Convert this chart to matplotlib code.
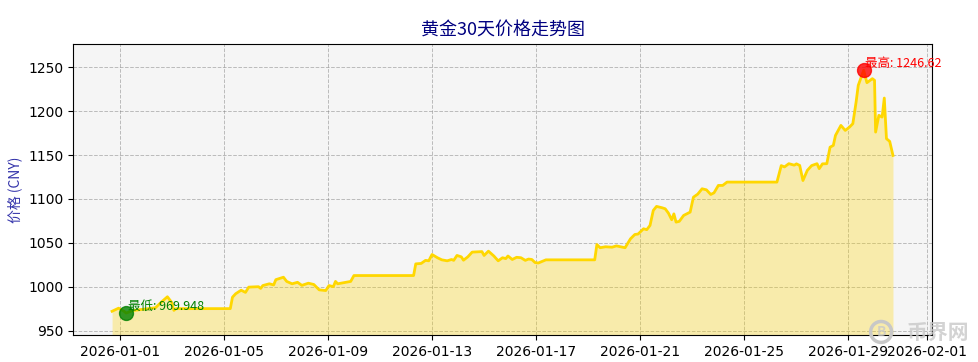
import matplotlib
matplotlib.use("Agg")
import matplotlib.pyplot as plt
import matplotlib.dates as mdates
import pandas as pd

plt.rcParams['font.family'] = ['Noto Sans CJK SC', 'DejaVu Sans']

# hourly gold price readings (CNY / gram)
times = [
    "2025-12-31 17:00", "2025-12-31 23:00", "2026-01-01 04:00", "2026-01-01 06:00",
    "2026-01-01 12:00", "2026-01-01 20:00", "2026-01-02 09:00", "2026-01-02 14:00",
    "2026-01-02 20:00", "2026-01-03 00:00", "2026-01-03 02:00", "2026-01-03 04:00",
    "2026-01-05 06:00", "2026-01-05 08:00", "2026-01-05 11:00", "2026-01-05 16:00",
    "2026-01-05 20:00", "2026-01-05 23:00", "2026-01-06 08:00", "2026-01-06 10:00",
    "2026-01-06 12:00", "2026-01-06 18:00", "2026-01-06 22:00", "2026-01-07 00:00",
    "2026-01-07 07:00", "2026-01-07 10:00", "2026-01-07 15:00", "2026-01-07 20:00",
    "2026-01-08 00:00", "2026-01-08 06:00", "2026-01-08 11:00", "2026-01-08 16:00",
    "2026-01-08 22:00", "2026-01-09 01:00", "2026-01-09 05:00", "2026-01-09 07:00",
    "2026-01-09 09:00", "2026-01-09 12:00", "2026-01-09 21:00", "2026-01-10 00:00",
    "2026-01-12 07:00", "2026-01-12 09:00", "2026-01-12 14:00", "2026-01-12 18:00",
    "2026-01-12 21:00", "2026-01-13 00:00", "2026-01-13 05:00", "2026-01-13 09:00",
    "2026-01-13 14:00", "2026-01-13 18:00", "2026-01-13 20:00", "2026-01-13 23:00",
    "2026-01-14 03:00", "2026-01-14 05:00", "2026-01-14 09:00", "2026-01-14 13:00",
    "2026-01-14 22:00", "2026-01-15 00:00", "2026-01-15 04:00", "2026-01-15 09:00",
    "2026-01-15 13:00", "2026-01-15 17:00", "2026-01-15 20:00", "2026-01-15 22:00",
    "2026-01-16 02:00", "2026-01-16 06:00", "2026-01-16 10:00", "2026-01-16 14:00",
    "2026-01-16 17:00", "2026-01-16 20:00", "2026-01-16 23:00", "2026-01-17 02:00",
    "2026-01-17 06:00", "2026-01-17 09:00", "2026-01-19 06:00", "2026-01-19 08:00",
    "2026-01-19 11:00", "2026-01-19 16:00", "2026-01-19 22:00", "2026-01-20 02:00",
    "2026-01-20 06:00", "2026-01-20 10:00", "2026-01-20 15:00", "2026-01-20 19:00",
    "2026-01-20 22:00", "2026-01-21 03:00", "2026-01-21 06:00", "2026-01-21 09:00",
    "2026-01-21 12:00", "2026-01-21 15:00", "2026-01-21 20:00", "2026-01-21 23:00",
    "2026-01-22 02:00", "2026-01-22 05:00", "2026-01-22 07:00", "2026-01-22 09:00",
    "2026-01-22 12:00", "2026-01-22 16:00", "2026-01-22 22:00", "2026-01-23 01:00",
    "2026-01-23 05:00", "2026-01-23 09:00", "2026-01-23 13:00", "2026-01-23 17:00",
    "2026-01-23 20:00", "2026-01-24 00:00", "2026-01-24 04:00", "2026-01-24 08:00",
    "2026-01-26 06:00", "2026-01-26 10:00", "2026-01-26 13:00", "2026-01-26 17:00",
    "2026-01-26 22:00", "2026-01-27 00:00", "2026-01-27 03:00", "2026-01-27 06:00",
    "2026-01-27 10:00", "2026-01-27 14:00", "2026-01-27 19:00", "2026-01-27 21:00",
    "2026-01-28 00:00", "2026-01-28 04:00", "2026-01-28 07:00", "2026-01-28 10:00",
    "2026-01-28 12:00", "2026-01-28 17:00", "2026-01-28 21:00", "2026-01-29 01:00",
    "2026-01-29 04:00", "2026-01-29 07:00", "2026-01-29 09:00", "2026-01-29 14:00",
    "2026-01-29 17:00", "2026-01-29 22:00", "2026-01-30 00:00", "2026-01-30 01:00",
    "2026-01-30 04:00", "2026-01-30 07:00", "2026-01-30 09:00", "2026-01-30 11:00",
    "2026-01-30 14:00", "2026-01-30 17:00",
]
prices = [
    972.0, 975.5, 972.0, 969.948,
    972.8, 974.0, 976.0, 982.0,
    988.5, 982.0, 973.0, 975.0,
    975.0, 988.0, 992.0, 996.0,
    993.5, 999.5, 1000.0, 998.0,
    1001.3, 1003.3, 1002.0, 1008.0,
    1010.8, 1006.0, 1003.3, 1005.0,
    1001.5, 1004.0, 1002.5, 996.4,
    995.6, 1001.3, 1000.0, 1006.0,
    1003.3, 1004.0, 1006.0, 1012.7,
    1012.7, 1026.0, 1026.5, 1030.0,
    1029.5, 1036.7, 1033.0, 1030.6,
    1029.5, 1031.0, 1030.0, 1035.6,
    1034.0, 1030.2, 1034.0, 1039.4,
    1040.0, 1035.6, 1040.5, 1035.0,
    1029.5, 1033.0, 1032.0, 1035.0,
    1031.0, 1033.5, 1033.0, 1030.0,
    1031.5, 1031.0, 1027.5, 1027.0,
    1029.0, 1030.6, 1030.6, 1048.0,
    1044.4, 1045.5, 1045.0, 1046.5,
    1045.5, 1044.4, 1054.6, 1059.5,
    1060.0, 1066.0, 1065.0, 1069.8,
    1086.9, 1091.5, 1090.0, 1088.8,
    1083.8, 1076.3, 1083.0, 1073.6,
    1074.5, 1081.2, 1085.0, 1102.0,
    1105.5, 1111.6, 1110.4, 1105.1,
    1107.0, 1115.4, 1115.4, 1119.2,
    1119.2, 1138.0, 1136.5, 1140.2,
    1138.5, 1140.0, 1138.2, 1121.0,
    1132.5, 1138.0, 1140.2, 1134.5,
    1140.0, 1140.2, 1159.0, 1161.0,
    1172.4, 1183.8, 1178.1, 1182.0,
    1185.8, 1210.4, 1229.5, 1246.62,
    1232.5, 1237.1, 1235.2, 1176.2,
    1195.3, 1193.3, 1215.0, 1168.7,
    1165.6, 1149.6,
]

dates = pd.to_datetime(times)
lo_i = prices.index(min(prices))
hi_i = prices.index(max(prices))
ymin = min(prices) - 25
ymax = max(prices) + 30

fig = plt.figure(figsize=(9.79, 3.62), dpi=100)
ax = fig.add_axes([0.0746, 0.0746, 0.8774, 0.8039])
ax.set_facecolor('#f5f5f5')

ax.plot(dates, prices, color='#FFD700', linewidth=2, zorder=3)
ax.fill_between(dates, prices, ymin, color='#FFD700', alpha=0.3, linewidth=0, zorder=2)

ax.scatter(dates[lo_i], prices[lo_i], s=100, color='green', alpha=0.8, zorder=4)
ax.annotate(f"最低: {prices[lo_i]}", (dates[lo_i], prices[lo_i]), xytext=(1, 0),
            textcoords='offset points', color='green', fontsize=9, va='bottom', zorder=5)
ax.scatter(dates[hi_i], prices[hi_i], s=100, color='red', alpha=0.8, zorder=4)
ax.annotate(f"最高: {prices[hi_i]}", (dates[hi_i], prices[hi_i]), xytext=(1, 0),
            textcoords='offset points', color='red', fontsize=9, va='bottom', zorder=5)

ax.set_ylim(ymin, ymax)
ax.xaxis.set_major_formatter(mdates.DateFormatter('%Y-%m-%d'))
ax.grid(True, linestyle='--', color='gray', alpha=0.5, linewidth=0.7)
ax.tick_params(labelsize=10)
for lbl in ax.get_xticklabels() + ax.get_yticklabels():
    lbl.set_family('DejaVu Sans')

ax.set_title("黄金30天价格走势图", color='navy', fontsize=13, pad=6)
ax.set_ylabel("价格 (CNY)", color='#3333aa', fontsize=10)

# faint site watermark, bottom right
fig.text(0.9, 0.083, "B", color='#c8c8c8', fontsize=10, fontweight='bold',
         ha='center', va='center', alpha=0.8,
         bbox=dict(boxstyle='circle,pad=0.25', fc='none', ec='#c8c8c8', lw=2.5))
fig.text(0.99, 0.083, "币界网", color='#c8c8c8', fontsize=15, fontweight='bold',
         ha='right', va='center', alpha=0.8)

fig.savefig("out.png", dpi=100)
